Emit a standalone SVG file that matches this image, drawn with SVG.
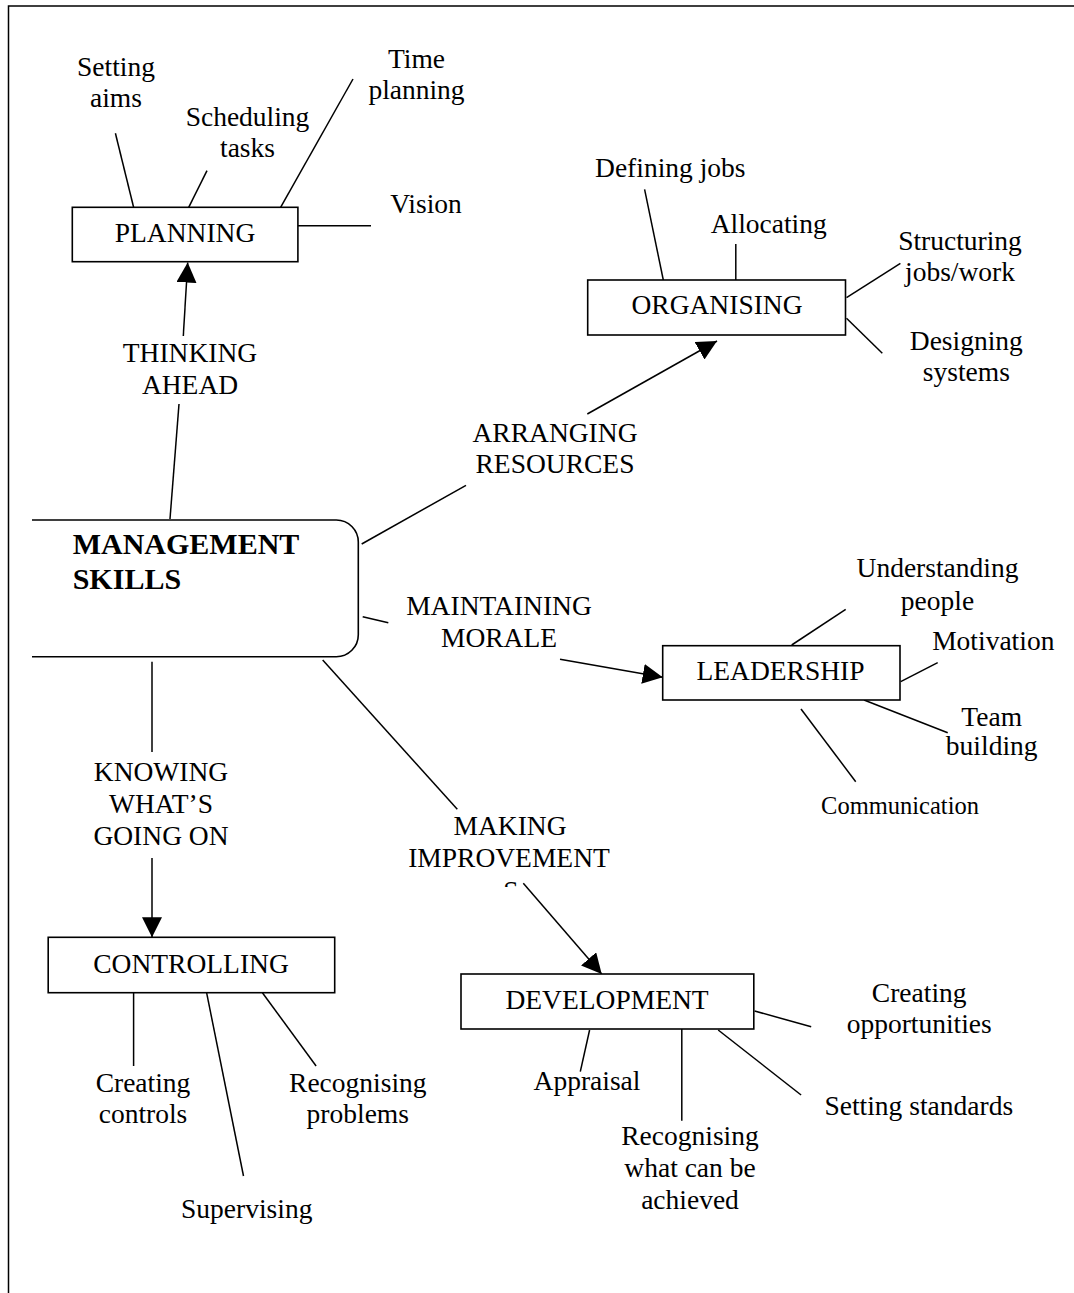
<svg xmlns="http://www.w3.org/2000/svg" width="1074" height="1293" viewBox="0 0 1074 1293">
  <style>
    .t { font-family: "Liberation Serif", "Times New Roman", serif; font-size: 27.5px; fill: #000; text-anchor: middle; }
    .sm { font-size: 24.5px; }
    .hd { font-family: "Liberation Serif", "Times New Roman", serif; font-size: 30px; font-weight: bold; fill: #000; }
    .box { fill: #fff; stroke: #000; stroke-width: 1.6; }
    .ln { stroke: #000; stroke-width: 1.5; fill: none; }
    .arr { stroke: #000; stroke-width: 1.5; fill: none; marker-end: url(#head); }
  </style>
  <defs>
    <marker id="head" markerUnits="userSpaceOnUse" markerWidth="20" markerHeight="20" refX="20" refY="10" orient="auto">
      <path d="M0,0 L20,10 L0,20 Z" fill="#000"/>
    </marker>
    <clipPath id="cutS">
      <rect x="380" y="800" width="260" height="87"/>
    </clipPath>
  </defs>

  <rect width="1074" height="1293" fill="#fff"/>
  <!-- page frame -->
  <path class="ln" d="M8.5,1293 V6 H1074" stroke-width="2"/>

  <!-- connectors from the centre to each function -->
  <g id="connectors">
    <line class="ln" x1="170" y1="519" x2="179" y2="404"/>
    <line class="arr" x1="183.3" y1="336" x2="187.7" y2="262.5"/>

    <line class="ln" x1="361.7" y1="544" x2="466" y2="485.3"/>
    <line class="arr" x1="587.3" y1="414" x2="717" y2="341"/>

    <line class="ln" x1="362.7" y1="616.7" x2="388.3" y2="622.7"/>
    <line class="arr" x1="560" y1="659.3" x2="662.7" y2="677.3"/>

    <line class="ln" x1="152" y1="661.7" x2="152" y2="752"/>
    <line class="arr" x1="152" y1="858" x2="152" y2="937.3"/>

    <line class="ln" x1="322.7" y1="660" x2="457.3" y2="809.3"/>
    <line class="arr" x1="523.3" y1="883.3" x2="601.7" y2="974"/>
  </g>

  <!-- connector labels -->
  <g id="labels">
    <text class="t" x="190" y="362">THINKING</text>
    <text class="t" x="190" y="394">AHEAD</text>
    <text class="t" x="555" y="441.7">ARRANGING</text>
    <text class="t" x="555" y="472.7">RESOURCES</text>
    <text class="t" x="499" y="615">MAINTAINING</text>
    <text class="t" x="499" y="647">MORALE</text>
    <text class="t" x="161" y="781">KNOWING</text>
    <text class="t" x="161" y="813">WHAT’S</text>
    <text class="t" x="161" y="845">GOING ON</text>
    <g clip-path="url(#cutS)">
      <text class="t" x="510" y="835">MAKING</text>
      <text class="t" x="509" y="867.3">IMPROVEMENT</text>
      <text class="t" x="511" y="899.5">S</text>
    </g>
  </g>

  <!-- centre node -->
  <g id="management-skills">
    <path class="box" d="M32,520 H336.3 A22,22 0 0 1 358.3,542 V634.7 A22,22 0 0 1 336.3,656.7 H32"/>
    <text class="hd" x="72.7" y="554">MANAGEMENT</text>
    <text class="hd" x="72.7" y="588.7">SKILLS</text>
  </g>

  <g id="planning">
    <line class="ln" x1="115.4" y1="133.3" x2="133.6" y2="207.3"/>
    <line class="ln" x1="207" y1="170.7" x2="188.7" y2="207.3"/>
    <line class="ln" x1="353" y1="79" x2="280.6" y2="207.3"/>
    <line class="ln" x1="298" y1="225.7" x2="371" y2="225.7"/>
    <rect class="box" x="72.3" y="207.3" width="225.6" height="54.4"/>
    <text class="t" x="185" y="241.7">PLANNING</text>
    <text class="t" x="116" y="76">Setting</text>
    <text class="t" x="116" y="107.3">aims</text>
    <text class="t" x="247.5" y="126">Scheduling</text>
    <text class="t" x="247.5" y="156.7">tasks</text>
    <text class="t" x="416.5" y="68.3">Time</text>
    <text class="t" x="416.5" y="99.3">planning</text>
    <text class="t" x="426" y="213.3">Vision</text>
  </g>

  <g id="organising">
    <line class="ln" x1="644.6" y1="189.3" x2="663.3" y2="280"/>
    <line class="ln" x1="735.8" y1="244" x2="735.8" y2="280"/>
    <line class="ln" x1="846.5" y1="297.7" x2="900.4" y2="263.3"/>
    <line class="ln" x1="846.5" y1="318.3" x2="882.3" y2="353.3"/>
    <rect class="box" x="587.7" y="280" width="257.8" height="55"/>
    <text class="t" x="717" y="314.3">ORGANISING</text>
    <text class="t" x="670.3" y="177.3">Defining jobs</text>
    <text class="t" x="768.7" y="233.3">Allocating</text>
    <text class="t" x="960" y="249.5">Structuring</text>
    <text class="t" x="960" y="281">jobs/work</text>
    <text class="t" x="966.3" y="349.5">Designing</text>
    <text class="t" x="966.3" y="381">systems</text>
  </g>

  <g id="leadership">
    <line class="ln" x1="791.7" y1="645" x2="845.7" y2="609.3"/>
    <line class="ln" x1="900.7" y1="681.7" x2="937.7" y2="662.7"/>
    <line class="ln" x1="864" y1="700" x2="947.7" y2="732.7"/>
    <line class="ln" x1="801" y1="709" x2="855.7" y2="781.7"/>
    <rect class="box" x="662.7" y="645.7" width="237.3" height="54.3"/>
    <text class="t" x="780.5" y="680">LEADERSHIP</text>
    <text class="t" x="937.5" y="576.7">Understanding</text>
    <text class="t" x="937.5" y="610">people</text>
    <text class="t" x="993.3" y="650">Motivation</text>
    <text class="t" x="991.7" y="725.7">Team</text>
    <text class="t" x="991.7" y="755">building</text>
    <text class="t sm" x="900" y="814">Communication</text>
  </g>

  <g id="controlling">
    <line class="ln" x1="133.6" y1="992.7" x2="133.6" y2="1066"/>
    <line class="ln" x1="206.6" y1="992.7" x2="243.5" y2="1176"/>
    <line class="ln" x1="262.4" y1="992.7" x2="316.1" y2="1066"/>
    <rect class="box" x="48.2" y="937.3" width="286.5" height="55.4"/>
    <text class="t" x="191" y="973.3">CONTROLLING</text>
    <text class="t" x="143" y="1091.7">Creating</text>
    <text class="t" x="143" y="1122.7">controls</text>
    <text class="t" x="246.7" y="1218.3">Supervising</text>
    <text class="t" x="357.8" y="1091.7">Recognising</text>
    <text class="t" x="357.8" y="1122.7">problems</text>
  </g>

  <g id="development">
    <line class="ln" x1="754.6" y1="1011" x2="811.2" y2="1026.7"/>
    <line class="ln" x1="589.6" y1="1030" x2="580.3" y2="1071.7"/>
    <line class="ln" x1="681.8" y1="1029" x2="681.8" y2="1120.7"/>
    <line class="ln" x1="718.2" y1="1030" x2="801.1" y2="1095"/>
    <rect class="box" x="461" y="974" width="292.8" height="55"/>
    <text class="t" x="607" y="1009.3">DEVELOPMENT</text>
    <text class="t" x="919.2" y="1001.7">Creating</text>
    <text class="t" x="919.2" y="1033.3">opportunities</text>
    <text class="t" x="587" y="1090">Appraisal</text>
    <text class="t" x="690" y="1145">Recognising</text>
    <text class="t" x="690" y="1177">what can be</text>
    <text class="t" x="690" y="1209">achieved</text>
    <text class="t" x="918.8" y="1115">Setting standards</text>
  </g>
</svg>
